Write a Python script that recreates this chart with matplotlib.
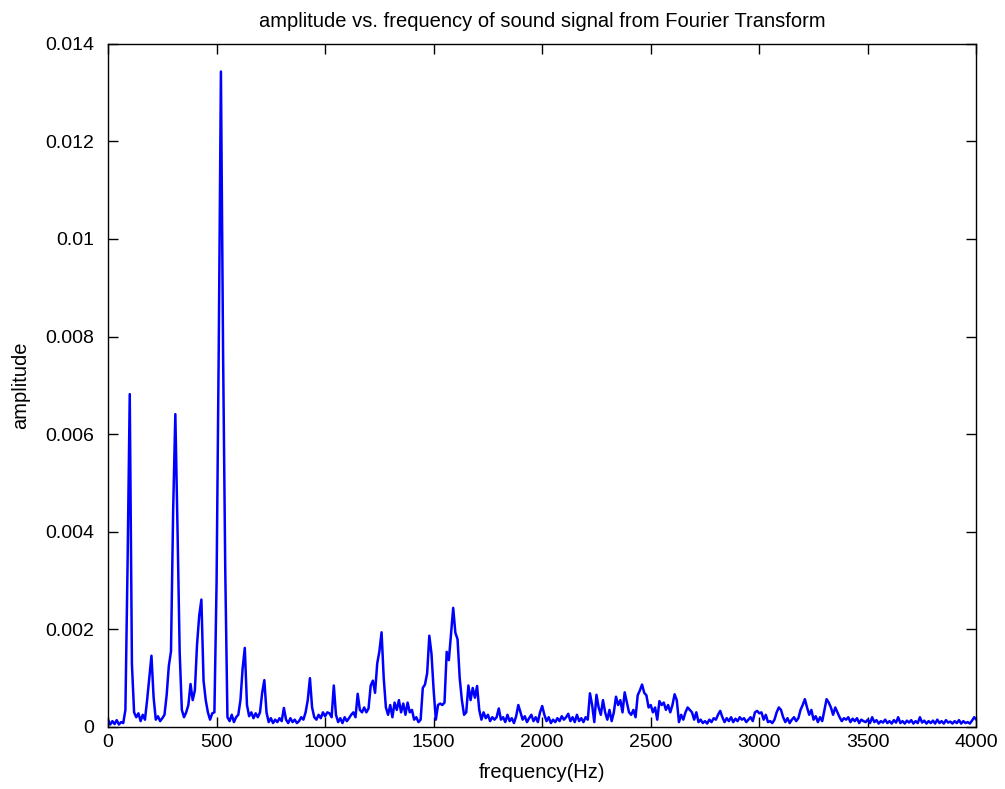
import numpy as np
import matplotlib
matplotlib.use('Agg')
import matplotlib.pyplot as plt

# Frequency grid (Hz) and amplitude, in units of 1e-3
freq_hz = np.arange(0, 4001, 10)

amp_milli = [
    # 0 - 90
    0.15, 0.05, 0.12, 0.06, 0.14, 0.05, 0.10, 0.08, 0.35, 3.35,
    # 100
    6.82, 1.29, 0.30, 0.20, 0.28, 0.12, 0.25, 0.15, 0.55, 1.00,
    # 200
    1.46, 0.60, 0.15, 0.22, 0.12, 0.18, 0.25, 0.65, 1.25, 1.55,
    # 300
    4.45, 6.41, 4.07, 1.53, 0.35, 0.20, 0.30, 0.45, 0.88, 0.55,
    # 400
    0.75, 1.69, 2.28, 2.61, 0.95, 0.55, 0.30, 0.15, 0.28, 0.30,
    # 500
    2.96, 7.79, 13.43, 7.65, 3.20, 0.20, 0.12, 0.25, 0.10, 0.20,
    # 600
    0.25, 0.55, 1.20, 1.62, 0.45, 0.22, 0.30, 0.18, 0.28, 0.20,
    # 700
    0.30, 0.70, 0.96, 0.30, 0.10, 0.18, 0.08, 0.15, 0.10, 0.18,
    # 800
    0.12, 0.39, 0.15, 0.08, 0.18, 0.10, 0.15, 0.08, 0.12, 0.20,
    # 900
    0.15, 0.30, 0.55, 1.00, 0.40, 0.20, 0.15, 0.25, 0.18, 0.30,
    # 1000
    0.22, 0.30, 0.28, 0.20, 0.85, 0.25, 0.10, 0.18, 0.08, 0.20,
    # 1100
    0.12, 0.18, 0.25, 0.30, 0.20, 0.68, 0.35, 0.30, 0.40, 0.30,
    # 1200
    0.38, 0.85, 0.95, 0.70, 1.30, 1.55, 1.94, 1.00, 0.40, 0.25,
    # 1300
    0.45, 0.20, 0.50, 0.35, 0.55, 0.30, 0.48, 0.25, 0.50, 0.30,
    # 1400
    0.35, 0.15, 0.20, 0.10, 0.15, 0.80, 0.87, 1.10, 1.87, 1.50,
    # 1500
    0.75, 0.15, 0.45, 0.48, 0.45, 0.50, 1.54, 1.37, 1.90, 2.44,
    # 1600
    1.93, 1.80, 1.00, 0.55, 0.25, 0.30, 0.85, 0.55, 0.80, 0.60,
    # 1700
    0.84, 0.35, 0.15, 0.30, 0.18, 0.25, 0.12, 0.20, 0.15, 0.20,
    # 1800
    0.38, 0.15, 0.20, 0.10, 0.25, 0.12, 0.18, 0.08, 0.22, 0.45,
    # 1900
    0.30, 0.15, 0.22, 0.10, 0.18, 0.25, 0.12, 0.20, 0.10, 0.30,
    # 2000
    0.43, 0.25, 0.12, 0.20, 0.08, 0.15, 0.10, 0.18, 0.12, 0.22,
    # 2100
    0.15, 0.20, 0.27, 0.12, 0.20, 0.10, 0.25, 0.12, 0.18, 0.10,
    # 2200
    0.20, 0.15, 0.69, 0.45, 0.10, 0.66, 0.40, 0.25, 0.55, 0.30,
    # 2300
    0.15, 0.35, 0.12, 0.30, 0.62, 0.45, 0.55, 0.30, 0.71, 0.50,
    # 2400
    0.30, 0.25, 0.35, 0.20, 0.65, 0.75, 0.87, 0.70, 0.65, 0.40,
    # 2500
    0.45, 0.30, 0.40, 0.15, 0.53, 0.45, 0.50, 0.35, 0.45, 0.30,
    # 2600
    0.45, 0.67, 0.55, 0.10, 0.25, 0.15, 0.30, 0.40, 0.35, 0.30,
    # 2700
    0.15, 0.30, 0.10, 0.15, 0.08, 0.12, 0.07, 0.15, 0.10, 0.18,
    # 2800
    0.15, 0.25, 0.33, 0.20, 0.10, 0.18, 0.12, 0.20, 0.10, 0.17,
    # 2900
    0.12, 0.20, 0.15, 0.18, 0.10, 0.15, 0.20, 0.12, 0.30, 0.33,
    # 3000
    0.28, 0.30, 0.15, 0.25, 0.10, 0.12, 0.08, 0.15, 0.30, 0.40,
    # 3100
    0.35, 0.20, 0.10, 0.18, 0.08, 0.15, 0.20, 0.12, 0.18, 0.35,
    # 3200
    0.45, 0.57, 0.40, 0.25, 0.35, 0.15, 0.22, 0.10, 0.20, 0.12,
    # 3300
    0.35, 0.57, 0.50, 0.40, 0.25, 0.40, 0.30, 0.20, 0.12, 0.18,
    # 3400
    0.15, 0.20, 0.10, 0.17, 0.12, 0.18, 0.08, 0.15, 0.12, 0.10,
    # 3500
    0.15, 0.08, 0.20, 0.10, 0.14, 0.07, 0.12, 0.09, 0.15, 0.08,
    # 3600
    0.12, 0.07, 0.14, 0.09, 0.20, 0.08, 0.12, 0.07, 0.13, 0.09,
    # 3700
    0.14, 0.07, 0.12, 0.08, 0.20, 0.09, 0.13, 0.07, 0.12, 0.08,
    # 3800
    0.13, 0.07, 0.15, 0.08, 0.12, 0.07, 0.14, 0.09, 0.11, 0.07,
    # 3900
    0.12, 0.08, 0.14, 0.07, 0.12, 0.08, 0.10, 0.07, 0.13, 0.20,
    # 4000
    0.15,
]

x_ticks = [0, 500, 1000, 1500, 2000, 2500, 3000, 3500, 4000]
y_ticks = [0, 0.002, 0.004, 0.006, 0.008, 0.01, 0.012, 0.014]
y_tick_labels = ['0', '0.002', '0.004', '0.006', '0.008', '0.01', '0.012', '0.014']

plt.rcParams['font.family'] = ['Liberation Sans', 'DejaVu Sans']

amp = np.array(amp_milli) * 1e-3

fig = plt.figure(figsize=(10.05, 7.89), dpi=100)
ax = fig.add_axes([0.1075, 0.0786, 0.864, 0.866])

ax.plot(freq_hz, amp, color='#0000FF', linewidth=1.8)

ax.set_xlim(0, 4000)
ax.set_ylim(0, 0.014)
ax.set_xticks(x_ticks)
ax.set_xticklabels([str(v) for v in x_ticks])
ax.set_yticks(y_ticks)
ax.set_yticklabels(y_tick_labels)

ax.tick_params(direction='in', length=7, width=1, top=True, right=True,
               labelsize=14)
ax.tick_params(axis='x', pad=5)
ax.tick_params(axis='y', pad=10)
for s in ax.spines.values():
    s.set_linewidth(1)

ax.set_title('amplitude vs. frequency of sound signal from Fourier Transform',
             fontsize=14.5, pad=12)
ax.set_xlabel('frequency(Hz)', fontsize=14.5, labelpad=9)
ax.set_ylabel('amplitude', fontsize=14.5, labelpad=11)

fig.savefig('out.png', dpi=100)
